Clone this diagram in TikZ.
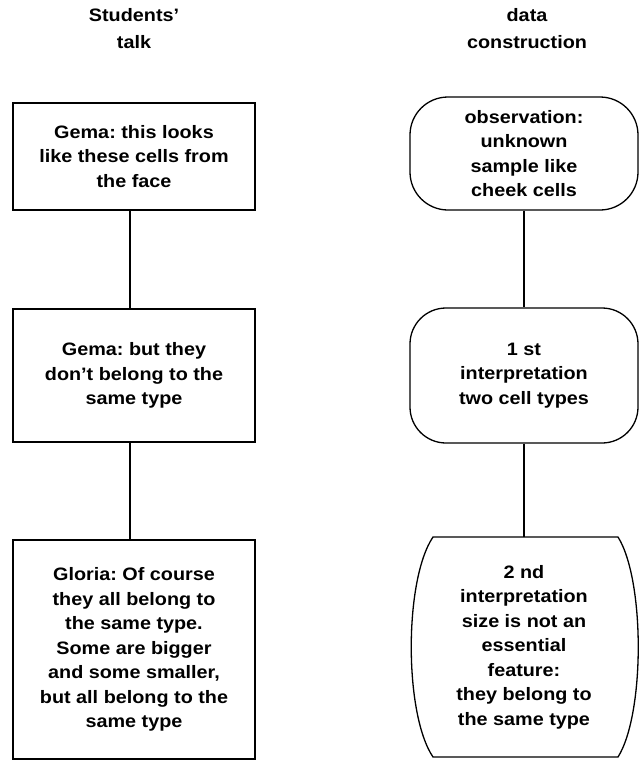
\documentclass[tikz,border=0pt]{standalone}
\usepackage{fontspec}
\setmainfont{Liberation Sans}[FakeStretch=1.1]
\frenchspacing
\begin{document}
\begin{tikzpicture}[x=1pt,y=-1pt,
  every node/.style={font=\bfseries\fontsize{18}{24.5}\selectfont, align=center, inner sep=0pt},
  header/.style={font=\bfseries\fontsize{18}{27}\selectfont},
  talkbox/.style={draw, line width=1.3pt, minimum width=242pt},
  databox/.style={draw, line width=1.3pt, minimum width=228pt},
  link/.style={line width=1.3pt}]
\useasboundingbox (0,0) rectangle (639,761);
% headers
\node[header] (h1) at (134,29) {Students’\\talk};
\node[header] (h2) at (527,29) {data\\construction};
% left column
\node[talkbox, minimum height=107pt] (s1) at (134,156.5) {Gema: this looks\\like these cells from\\the face};
\node[talkbox, minimum height=133pt] (s2) at (134,375.5) {Gema: but they\\don’t belong to the\\same type};
\node[talkbox, minimum height=219pt] (s3) at (134,649.5) {Gloria: Of course\\they all belong to\\the same type.\\Some are bigger\\and some smaller,\\but all belong to the\\same type};
\draw[link] ([xshift=-4pt]s1.south) -- ([xshift=-4pt]s2.north);
\draw[link] ([xshift=-4pt]s2.south) -- ([xshift=-4pt]s3.north);
% right column
\node[databox, rounded corners=38pt, minimum height=113pt] (d1) at (524,153.5) {observation:\\unknown\\sample like\\cheek cells};
\node[databox, rounded corners=36pt, minimum height=135pt] (d2) at (524,375.5) {1 st\\interpretation\\two cell types};
\node[minimum width=228pt, minimum height=220pt] (d3) at (524,647) {2 nd\\interpretation\\size is not an\\essential\\feature:\\they belong to\\the same type};
\draw[line width=1.3pt, line join=round] (433,537) -- (618,537)
  .. controls (645,580) and (645,714) .. (618,757) -- (433,757)
  .. controls (404,714) and (404,580) .. (433,537) -- cycle;
\draw[link] (d1.south) -- (d2.north);
\draw[link] (d2.south) -- (d3.north);
\end{tikzpicture}
\end{document}
